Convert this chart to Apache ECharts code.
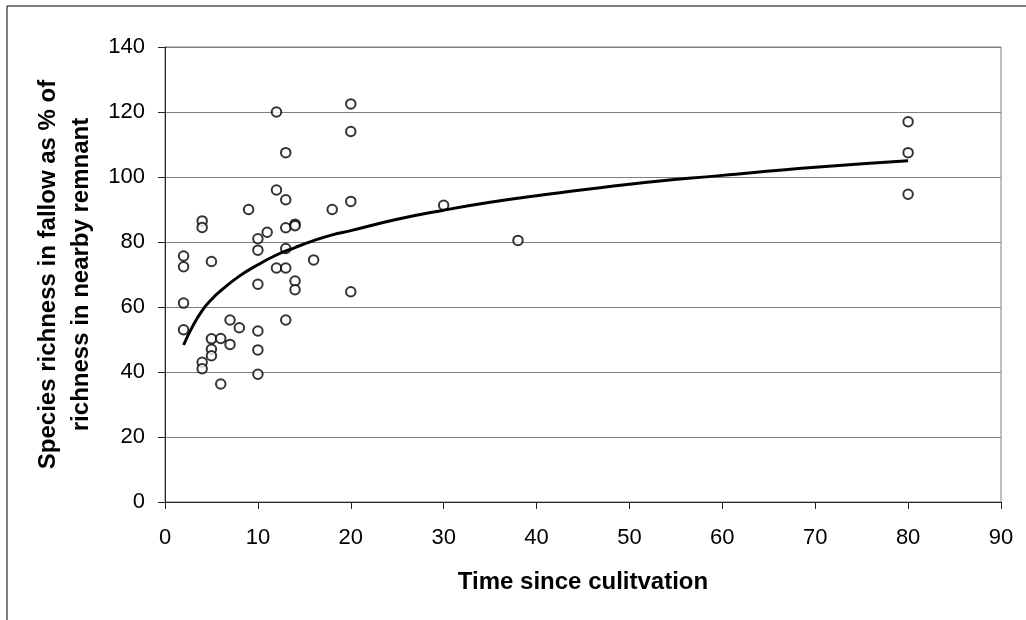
<!DOCTYPE html>
<html>
<head>
<meta charset="utf-8">
<script src="https://cdn.jsdelivr.net/npm/echarts@6/dist/echarts.min.js"></script>
<style>
  html, body { margin: 0; padding: 0; background: #fff; }
</style>
</head>
<body>
<div id="chart" style="width: 1026px; height: 620px"></div>
<script>
  // years since cultivation, and richness as % of remnant, one entry per plot
  let timeSince = [2, 2, 2, 2, 4, 4, 4, 4, 5, 5, 5, 5, 6, 6, 7, 7, 8, 9,
    10, 10, 10, 10, 10, 10, 11, 12, 12, 12, 13, 13, 13, 13, 13, 13,
    14, 14, 14, 14, 16, 18, 20, 20, 20, 20, 30, 38, 80, 80, 80]
  let richnessPct = [75.7, 72.4, 61.2, 53, 86.5, 84.5, 43, 41, 74, 50.2, 47, 45, 50.3, 36.3, 56, 48.5, 53.6, 90,
    81, 77.5, 67, 52.6, 46.8, 39.3, 83, 120, 96, 72, 107.5, 93, 84.4, 78, 72, 56,
    85.5, 85, 68, 65.3, 74.5, 90, 122.5, 114, 92.5, 64.7, 91.3, 80.5, 117, 107.5, 94.7]

  // trend curve
  let trendX = [2, 3, 4, 5, 6, 8, 10, 12, 14, 16, 18, 20, 25, 30, 35, 40, 50, 60, 70, 80]
  let trendY = [48.3, 54.2, 58.9, 62.3, 65, 69.5, 73, 76, 78.3, 80.4, 82.2, 83.5, 87, 89.8, 92.2, 94.2, 97.8, 100.5, 103, 105]

  let xTicks = [0, 90, 10]   // min, max, interval
  let yTicks = [0, 140, 20]

  let font = 'Liberation Sans, Arial, sans-serif'

  let points = timeSince.map(function (t, i) { return [t, richnessPct[i]] })
  let trend = trendX.map(function (t, i) { return [t, trendY[i]] })

  let myChart = echarts.init(document.getElementById('chart'))
  let option = {
    backgroundColor: '#fff',
    animation: false,
    textStyle: { fontFamily: font, color: '#000' },
    grid: {
      left: 165,
      right: 25,
      top: 47,
      bottom: 118,
      show: true,
      borderColor: '#808080',
      borderWidth: 1
    },
    // outer frame, only its top and left edges fall inside the picture
    graphic: [{
      type: 'polyline',
      shape: { points: [[7, 700], [7, 6], [1100, 6]] },
      style: { stroke: '#000', lineWidth: 1, fill: null }
    }],
    xAxis: {
      type: 'value',
      min: xTicks[0],
      max: xTicks[1],
      interval: xTicks[2],
      name: 'Time since culitvation',
      nameLocation: 'middle',
      nameGap: 68,
      nameTextStyle: { fontSize: 24, fontWeight: 'bold', color: '#000', fontFamily: font },
      axisLine: { lineStyle: { color: '#222', width: 1 } },
      axisTick: { show: true, length: 7, lineStyle: { color: '#222' } },
      axisLabel: { fontSize: 22, color: '#000', margin: 25, fontFamily: font },
      splitLine: { show: false }
    },
    yAxis: {
      type: 'value',
      min: yTicks[0],
      max: yTicks[1],
      interval: yTicks[2],
      name: 'Species richness in fallow as % of\nrichness in nearby remnant',
      nameLocation: 'middle',
      nameRotate: 90,
      nameGap: 67,
      nameTextStyle: { fontSize: 24, fontWeight: 'bold', color: '#000', lineHeight: 33, fontFamily: font },
      axisLine: { show: true, lineStyle: { color: '#222', width: 1 } },
      axisTick: { show: true, length: 7, lineStyle: { color: '#222' } },
      axisLabel: { fontSize: 22, color: '#000', margin: 20, fontFamily: font },
      splitLine: { show: true, lineStyle: { color: '#808080', width: 1 } }
    },
    series: [{
      name: 'plots',
      type: 'scatter',
      data: points,
      symbol: 'circle',
      symbolSize: 9.5,
      itemStyle: { color: '#fff', borderColor: '#000', borderWidth: 2 },
      z: 2
    }, {
      name: 'trend',
      type: 'line',
      data: trend,
      smooth: true,
      showSymbol: false,
      lineStyle: { color: '#000', width: 3 },
      z: 3
    }]
  }
  myChart.setOption(option)
</script>
</body>
</html>
